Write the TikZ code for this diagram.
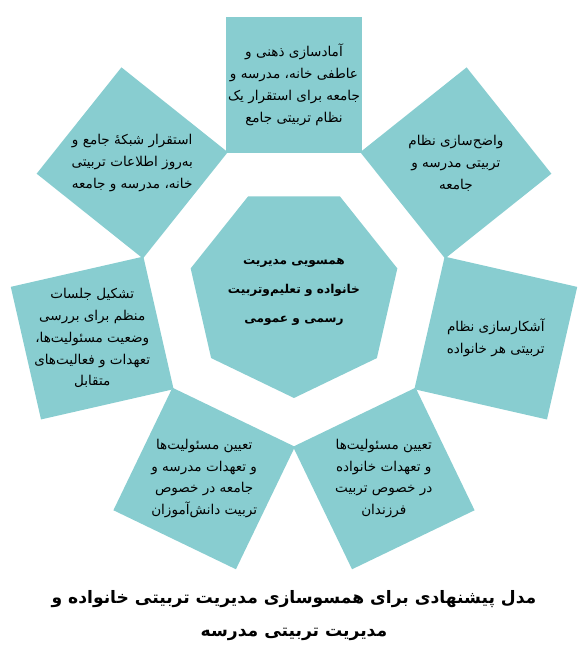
\documentclass[tikz,border=0pt]{standalone}
\usepackage{fontspec}
\usetikzlibrary{calc}
\newfontfamily\arabicfont[Script=Arabic]{DejaVu Sans}
\TeXXeTstate=1
\newcommand{\fa}[1]{\beginR #1\endR}
\definecolor{tilecol}{RGB}{136,205,208}

\begin{document}
\begin{tikzpicture}[x=1bp,y=1bp,
    tile/.style={fill=tilecol, minimum size=136bp, inner sep=0pt},
    tiletext/.style={align=center, font=\arabicfont\fontsize{13.6}{22}\selectfont},
    hubtext/.style={align=center, font=\arabicfont\bfseries\fontsize{12.2}{29}\selectfont},
    captext/.style={align=center, font=\arabicfont\bfseries\fontsize{17.2}{33}\selectfont}]
  \useasboundingbox (0,0) rectangle (588,656);
  \coordinate (C) at (294,364);

  % central heptagon
  \fill[tilecol, shift={(294,364)}] (115.71:106)
    \foreach \i in {1,...,6} { -- (115.71-\i*51.43:106) } -- cycle;
  \node[hubtext] (hub) at (C) {\fa{همسویی مدیریت}\\\fa{خانواده و تعلیم‌وتربیت}\\\fa{رسمی و عمومی}};

  % the seven squares round it
  \foreach \k/\txt in {
      0/{\fa{آمادسازی ذهنی و}\\\fa{عاطفی خانه، مدرسه و}\\\fa{جامعه برای استقرار یک}\\\fa{نظام تربیتی جامع}},
      1/{\fa{واضح‌سازی نظام}\\\fa{تربیتی مدرسه و}\\\fa{جامعه}},
      2/{\fa{آشکارسازی نظام}\\\fa{تربیتی هر خانواده}},
      3/{\fa{تعیین مسئولیت‌ها}\\\fa{و تعهدات خانواده}\\\fa{در خصوص تربیت}\\\fa{فرزندان}},
      4/{\fa{تعیین مسئولیت‌ها}\\\fa{و تعهدات مدرسه و}\\\fa{جامعه در خصوص}\\\fa{تربیت دانش‌آموزان}},
      5/{\fa{تشکیل جلسات}\\\fa{منظم برای بررسی}\\\fa{وضعیت مسئولیت‌ها،}\\\fa{تعهدات و فعالیت‌های}\\\fa{متقابل}},
      6/{\fa{استقرار شبکهٔ جامع و}\\\fa{به‌روز اطلاعات تربیتی}\\\fa{خانه، مدرسه و جامعه}}} {
    \node[tile, rotate=-\k*51.43] (sq\k) at ($(C)+(90-\k*51.43:207)$) {};
    \node[tiletext] (txt\k) at (sq\k) {\txt};
  }

  \node[captext] (cap) at (294,40) {\fa{مدل پیشنهادی برای همسوسازی مدیریت تربیتی خانواده و}\\\fa{مدیریت تربیتی مدرسه}};
\end{tikzpicture}
\end{document}
